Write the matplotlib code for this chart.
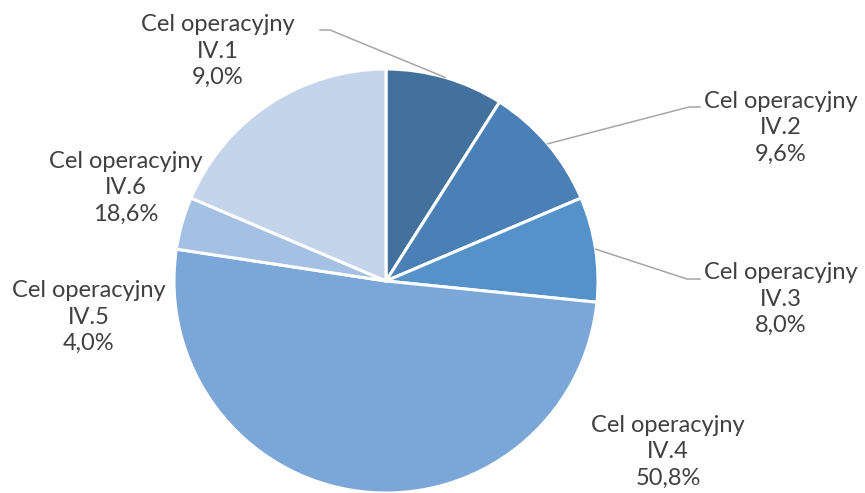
import numpy as np
import matplotlib.pyplot as plt

# data
names = ["IV.1", "IV.2", "IV.3", "IV.4", "IV.5", "IV.6"]
shares = [9.0, 9.6, 8.0, 50.8, 4.0, 18.6]
colors = ["#41719C", "#4A80B6", "#5592CA", "#7AA7D8", "#A4C0E3", "#C4D5EB"]

# label placement (pixel coords, y from top) and leader elbows (None = no leader)
label_pos = [(218, 51), (781, 128), (781, 299), (668, 452), (89, 317), (126, 188)]
elbows = [((330, 30), (320, 30)), ((689, 107), (700, 107)), ((687, 279), (700, 279)),
          None, None, None]

W, H = 865, 493
cx, cy, r = 386, 281, 212

plt.rcParams['font.family'] = ['Lato', 'DejaVu Sans']
fig = plt.figure(figsize=(W / 100, H / 100), dpi=100)
ax = fig.add_axes([0, 0, 1, 1])

ax.pie(shares, colors=colors, startangle=90, counterclock=False,
       center=(cx, H - cy), radius=r, frame=True,
       wedgeprops=dict(edgecolor='white', linewidth=2.2))
ax.set_xlim(0, W)
ax.set_ylim(0, H)
ax.set_aspect('equal')
ax.axis('off')

cum = np.cumsum([0] + shares)
for i, name in enumerate(names):
    txt = "Cel operacyjny\n%s\n%s%%" % (name, ("%.1f" % shares[i]).replace(".", ","))
    x, y = label_pos[i]
    ax.text(x, H - y, txt, ha='center', va='center', fontsize=17,
            color='#404040', linespacing=1.31)
    if elbows[i] is not None:
        mid = np.deg2rad(90 - 3.6 * (cum[i] + cum[i + 1]) / 2)
        sx, sy = cx + r * np.cos(mid), cy - r * np.sin(mid)
        (ex, ey), (hx, hy) = elbows[i]
        ax.plot([sx, ex, hx], [H - sy, H - ey, H - hy], color='#A6A6A6', lw=1.1)

fig.savefig("out.png", dpi=100)
